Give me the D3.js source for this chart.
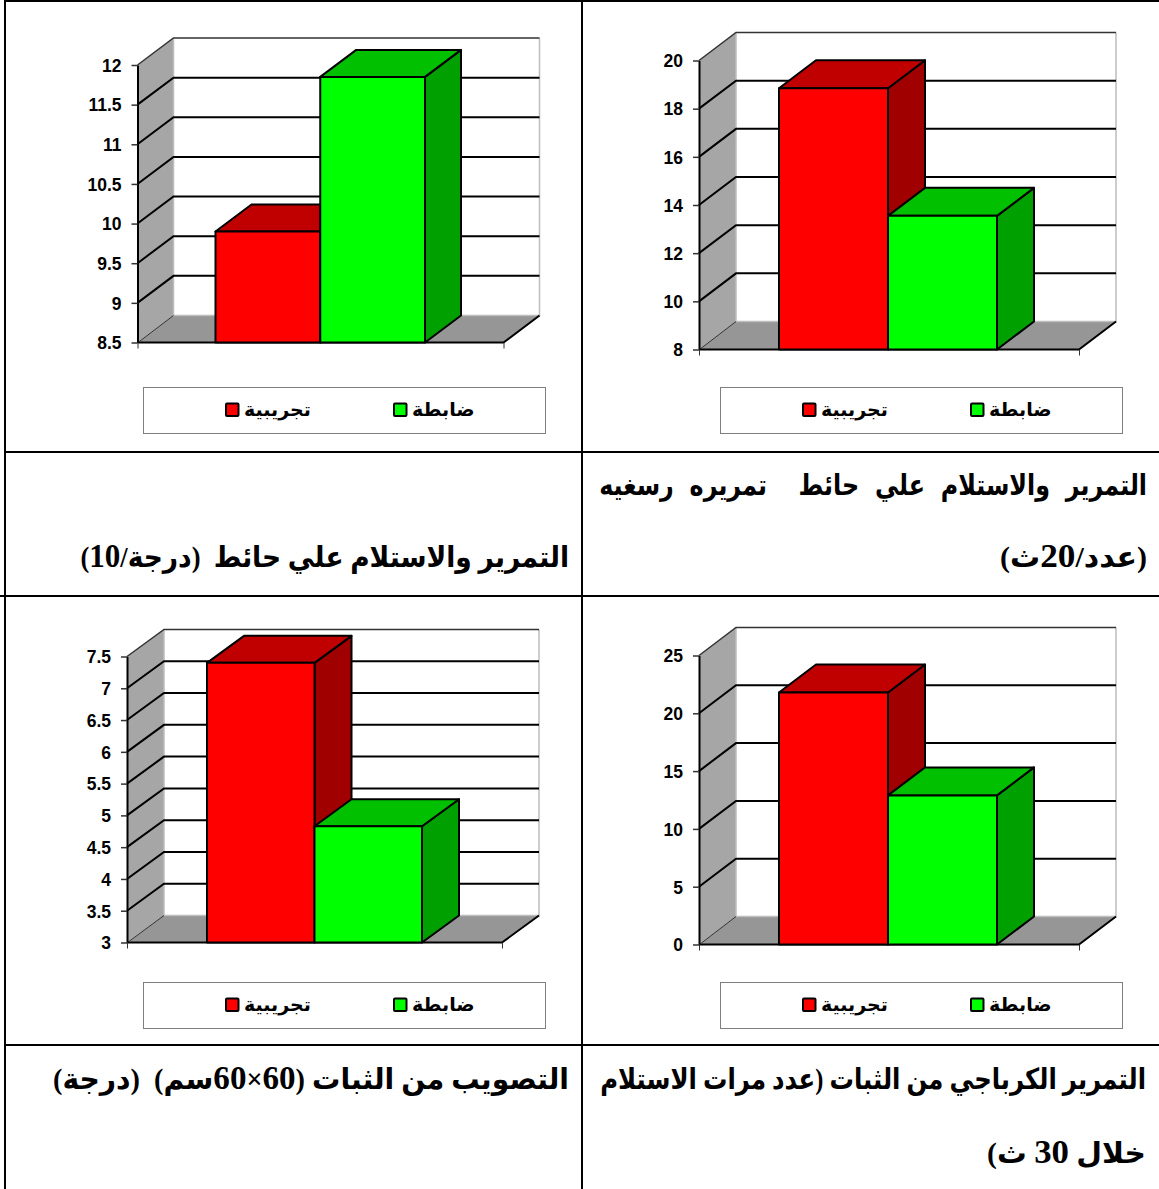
<!DOCTYPE html>
<html lang="ar">
<head>
<meta charset="utf-8">
<script src="https://cdn.jsdelivr.net/npm/d3@7"></script>
<style>
  html, body { margin: 0; padding: 0; background: #fff; }
  svg { display: block; }
  .tick text { font-family: "Liberation Sans", Arial, sans-serif; font-weight: bold; font-size: 17.5px; fill: #000; }
  .legend-label { font-family: "Liberation Sans", "DejaVu Sans", sans-serif; font-weight: bold; font-size: 19px; }
  .caption { font-family: "Liberation Serif", "DejaVu Sans", serif; font-weight: bold; font-size: 29px; direction: rtl; }
  .caption .num { font-size: 34px; }
</style>
</head>
<body>
<div id="root"></div>
<script>
const groups = ['تجريبية', 'ضابطة'];

const wallPassValues = [9.9, 11.85];
const wallPassTicks = [8.5, 9, 9.5, 10, 10.5, 11, 11.5, 12];

const wristPassValues = [18.85, 13.55];
const wristPassTicks = [8, 10, 12, 14, 16, 18, 20];

const shootValues = [7.4, 4.83];
const shootTicks = [3, 3.5, 4, 4.5, 5, 5.5, 6, 6.5, 7, 7.5];

const standPassValues = [21.8, 12.9];
const standPassTicks = [0, 5, 10, 15, 20, 25];

const wallPassCaption = ['التمرير والاستلام علي حائط  (درجة/10)'];
const wristPassCaption = ['التمرير والاستلام علي حائط  تمريره رسغيه', '(عدد/20ث)'];
const shootCaption = ['التصويب من الثبات (60×60سم)  (درجة)'];
const standPassCaption = ['التمرير الكرباجي من الثبات (عدد مرات الاستلام', 'خلال 30 ث)'];

const colors = [
  { front: '#ff0000', top: '#c00000', side: '#a00000' },
  { front: '#00ff00', top: '#00c000', side: '#00a000' },
];

const width = 1159;
const height = 1189;

const svg = d3.select('#root').append('svg')
  .attr('width', width)
  .attr('height', height);

// left, bottom, top tick, front right, bars left/right, depth, legend box
drawChart({ values: wallPassValues, ticks: wallPassTicks,
  x0: 137.5, x1: 503.5, bottom: 342.5, top: 65, barL: 215.5, barR: 425, dx: 36, dy: 27, legL: 143, legY: 387 });
drawChart({ values: wristPassValues, ticks: wristPassTicks,
  x0: 699, x1: 1079, bottom: 349.5, top: 60.5, barL: 779, barR: 997, dx: 37, dy: 28, legL: 720, legY: 387 });
drawChart({ values: shootValues, ticks: shootTicks,
  x0: 127, x1: 502, bottom: 942.5, top: 656.5, barL: 207, barR: 422, dx: 37, dy: 27, legL: 143, legY: 982 });
drawChart({ values: standPassValues, ticks: standPassTicks,
  x0: 699, x1: 1079, bottom: 944.5, top: 655.5, barL: 779, barR: 997, dx: 37, dy: 28, legL: 720, legY: 982 });

drawCaption(wristPassCaption, 1147, [495, 567], [548, 147], 12);
drawCaption(wallPassCaption, 569, [567], [489], 0);
drawCaption(standPassCaption, 1146, [1089, 1163], [546, 159], 0);
drawCaption(shootCaption, 569, [1089], [516], 0);

// table rules
const rules = [
  [5, 1, width, 1], [5, 0, 5, height], [582, 0, 582, height],
  [5, 452, width, 452], [0, 596, width, 596], [5, 1045, width, 1045],
];
svg.append('g').selectAll('line')
  .data(rules)
  .enter()
  .append('line')
    .attr('x1', (d) => d[0])
    .attr('y1', (d) => d[1])
    .attr('x2', (d) => d[2])
    .attr('y2', (d) => d[3])
    .attr('stroke', '#000')
    .attr('stroke-width', 2);

function poly(points) {
  return points.map((p) => p.join(',')).join(' ');
}

function drawChart(c) {
  const g = svg.append('g');
  const { x0, x1, bottom, top, dx, dy, ticks, values } = c;

  const y = d3.scaleLinear()
    .domain([ticks[0], ticks[ticks.length - 1]])
    .range([bottom, top]);
  const x = d3.scaleBand()
    .domain(groups)
    .range([c.barL, c.barR]);
  const xOuter = d3.scaleLinear()
    .domain([0, 1])
    .range([x0, x1]);

  // walls and floor
  g.append('polygon')
    .attr('points', poly([[x0, top], [x0 + dx, top - dy], [x0 + dx, bottom - dy], [x0, bottom]]))
    .attr('fill', '#a6a6a6');
  g.append('polygon')
    .attr('points', poly([[x0, bottom], [x0 + dx, bottom - dy], [x1 + dx, bottom - dy], [x1, bottom]]))
    .attr('fill', '#969696');
  g.append('path')
    .attr('d', `M${x0 + dx},${bottom - dy}V${top - dy}M${x0 + dx},${bottom - dy}H${x1 + dx}V${top - dy}`)
    .attr('fill', 'none')
    .attr('stroke', '#bdbdbd')
    .attr('stroke-width', 1.5);

  // gridlines run along the side wall and the back wall
  g.append('g').selectAll('path')
    .data(ticks.slice(1))
    .enter()
    .append('path')
      .attr('d', (d) => {
        const yy = y(d);
        return `M${x0},${yy}L${x0 + dx},${yy - dy}H${x1 + dx}`;
      })
      .attr('fill', 'none')
      .attr('stroke', (d, i) => i === ticks.length - 2 ? '#333' : '#000')
      .attr('stroke-width', (d, i) => i === ticks.length - 2 ? 1.5 : 2);

  g.append('path')
    .attr('d', `M${x0},${bottom}H${x1}L${x1 + dx},${bottom - dy}`)
    .attr('fill', 'none')
    .attr('stroke', '#000')
    .attr('stroke-width', 2);
  g.append('line')
    .attr('x1', x0 + 0.5).attr('x2', x0 + dx).attr('y1', bottom).attr('y2', bottom - dy)
    .attr('stroke', '#333');

  // bars, red goes first so the green one can cover its side
  const bar = g.selectAll('.bar')
    .data(groups)
    .enter()
    .append('g')
      .attr('class', 'bar')
      .attr('stroke', '#000')
      .attr('stroke-width', 2)
      .attr('stroke-linejoin', 'round');

  bar.append('polygon')
    .attr('fill', (d, i) => colors[i].side)
    .attr('points', (d, i) => {
      const r = x(d) + x.bandwidth();
      const t = y(values[i]);
      return poly([[r, t], [r + dx, t - dy], [r + dx, bottom - dy], [r, bottom]]);
    });
  bar.append('polygon')
    .attr('fill', (d, i) => colors[i].top)
    .attr('points', (d, i) => {
      const l = x(d);
      const r = l + x.bandwidth();
      const t = y(values[i]);
      return poly([[l, t], [l + dx, t - dy], [r + dx, t - dy], [r, t]]);
    });
  bar.append('rect')
    .attr('fill', (d, i) => colors[i].front)
    .attr('x', (d) => x(d))
    .attr('width', x.bandwidth())
    .attr('y', (d, i) => y(values[i]))
    .attr('height', (d, i) => bottom - y(values[i]));

  // axes
  const yAxis = g.append('g')
    .attr('transform', `translate(${x0},0)`)
    .call(d3.axisLeft(y).tickValues(ticks).tickSize(6).tickSizeOuter(0).tickPadding(10).tickFormat((d) => d));
  yAxis.select('.domain').attr('stroke', '#000').attr('stroke-width', 2);
  yAxis.selectAll('.tick line').attr('stroke', '#333').attr('stroke-width', 1.5);
  yAxis.selectAll('.tick text').attr('y', 0.7);

  const xAxis = g.append('g')
    .attr('transform', `translate(0,${bottom})`)
    .call(d3.axisBottom(xOuter).tickValues([0, 1]).tickSize(6).tickSizeOuter(0).tickFormat(''));
  xAxis.select('.domain').remove();
  xAxis.selectAll('.tick line').attr('stroke', '#333').attr('stroke-width', 1);

  // legend
  const legend = g.append('g').attr('transform', `translate(${c.legL},${c.legY})`);
  legend.append('rect')
    .attr('x', 0.5).attr('y', 0.5)
    .attr('width', 402).attr('height', 46)
    .attr('fill', '#fff')
    .attr('stroke', '#7f7f7f');
  const item = legend.selectAll('.item')
    .data(groups)
    .enter()
    .append('g')
      .attr('class', 'item')
      .attr('transform', (d, i) => `translate(${83 + i * 168},0)`);
  item.append('rect')
    .attr('y', 16.5)
    .attr('width', 12.5).attr('height', 12.5)
    .attr('fill', (d, i) => colors[i].front)
    .attr('stroke', '#000')
    .attr('stroke-width', 2)
    .attr('rx', 1);
  item.append('text')
    .attr('class', 'legend-label')
    .attr('x', 18)
    .attr('y', 29)
    .text((d) => d);
}

// the source text is narrower and taller than DejaVu, so each line is squeezed to its width
function drawCaption(lines, right, ys, widths, spacing) {
  svg.append('g').selectAll('text')
    .data(lines)
    .enter()
    .append('text')
      .attr('class', 'caption')
      .attr('text-anchor', 'start')
      .attr('xml:space', 'preserve')
      .attr('word-spacing', (d, i) => i === 0 ? spacing : 0)
      .each(function (d, i) {
        const text = d3.select(this);
        d.split(/(\d+)/).forEach((part) => {
          text.append('tspan')
            .attr('class', /\d/.test(part) ? 'num' : null)
            .text(part);
        });
        const k = widths[i] / this.getComputedTextLength();
        text.attr('transform', `translate(${right},${ys[i]}) scale(${k},1)`);
      });
}
</script>
</body>
</html>
